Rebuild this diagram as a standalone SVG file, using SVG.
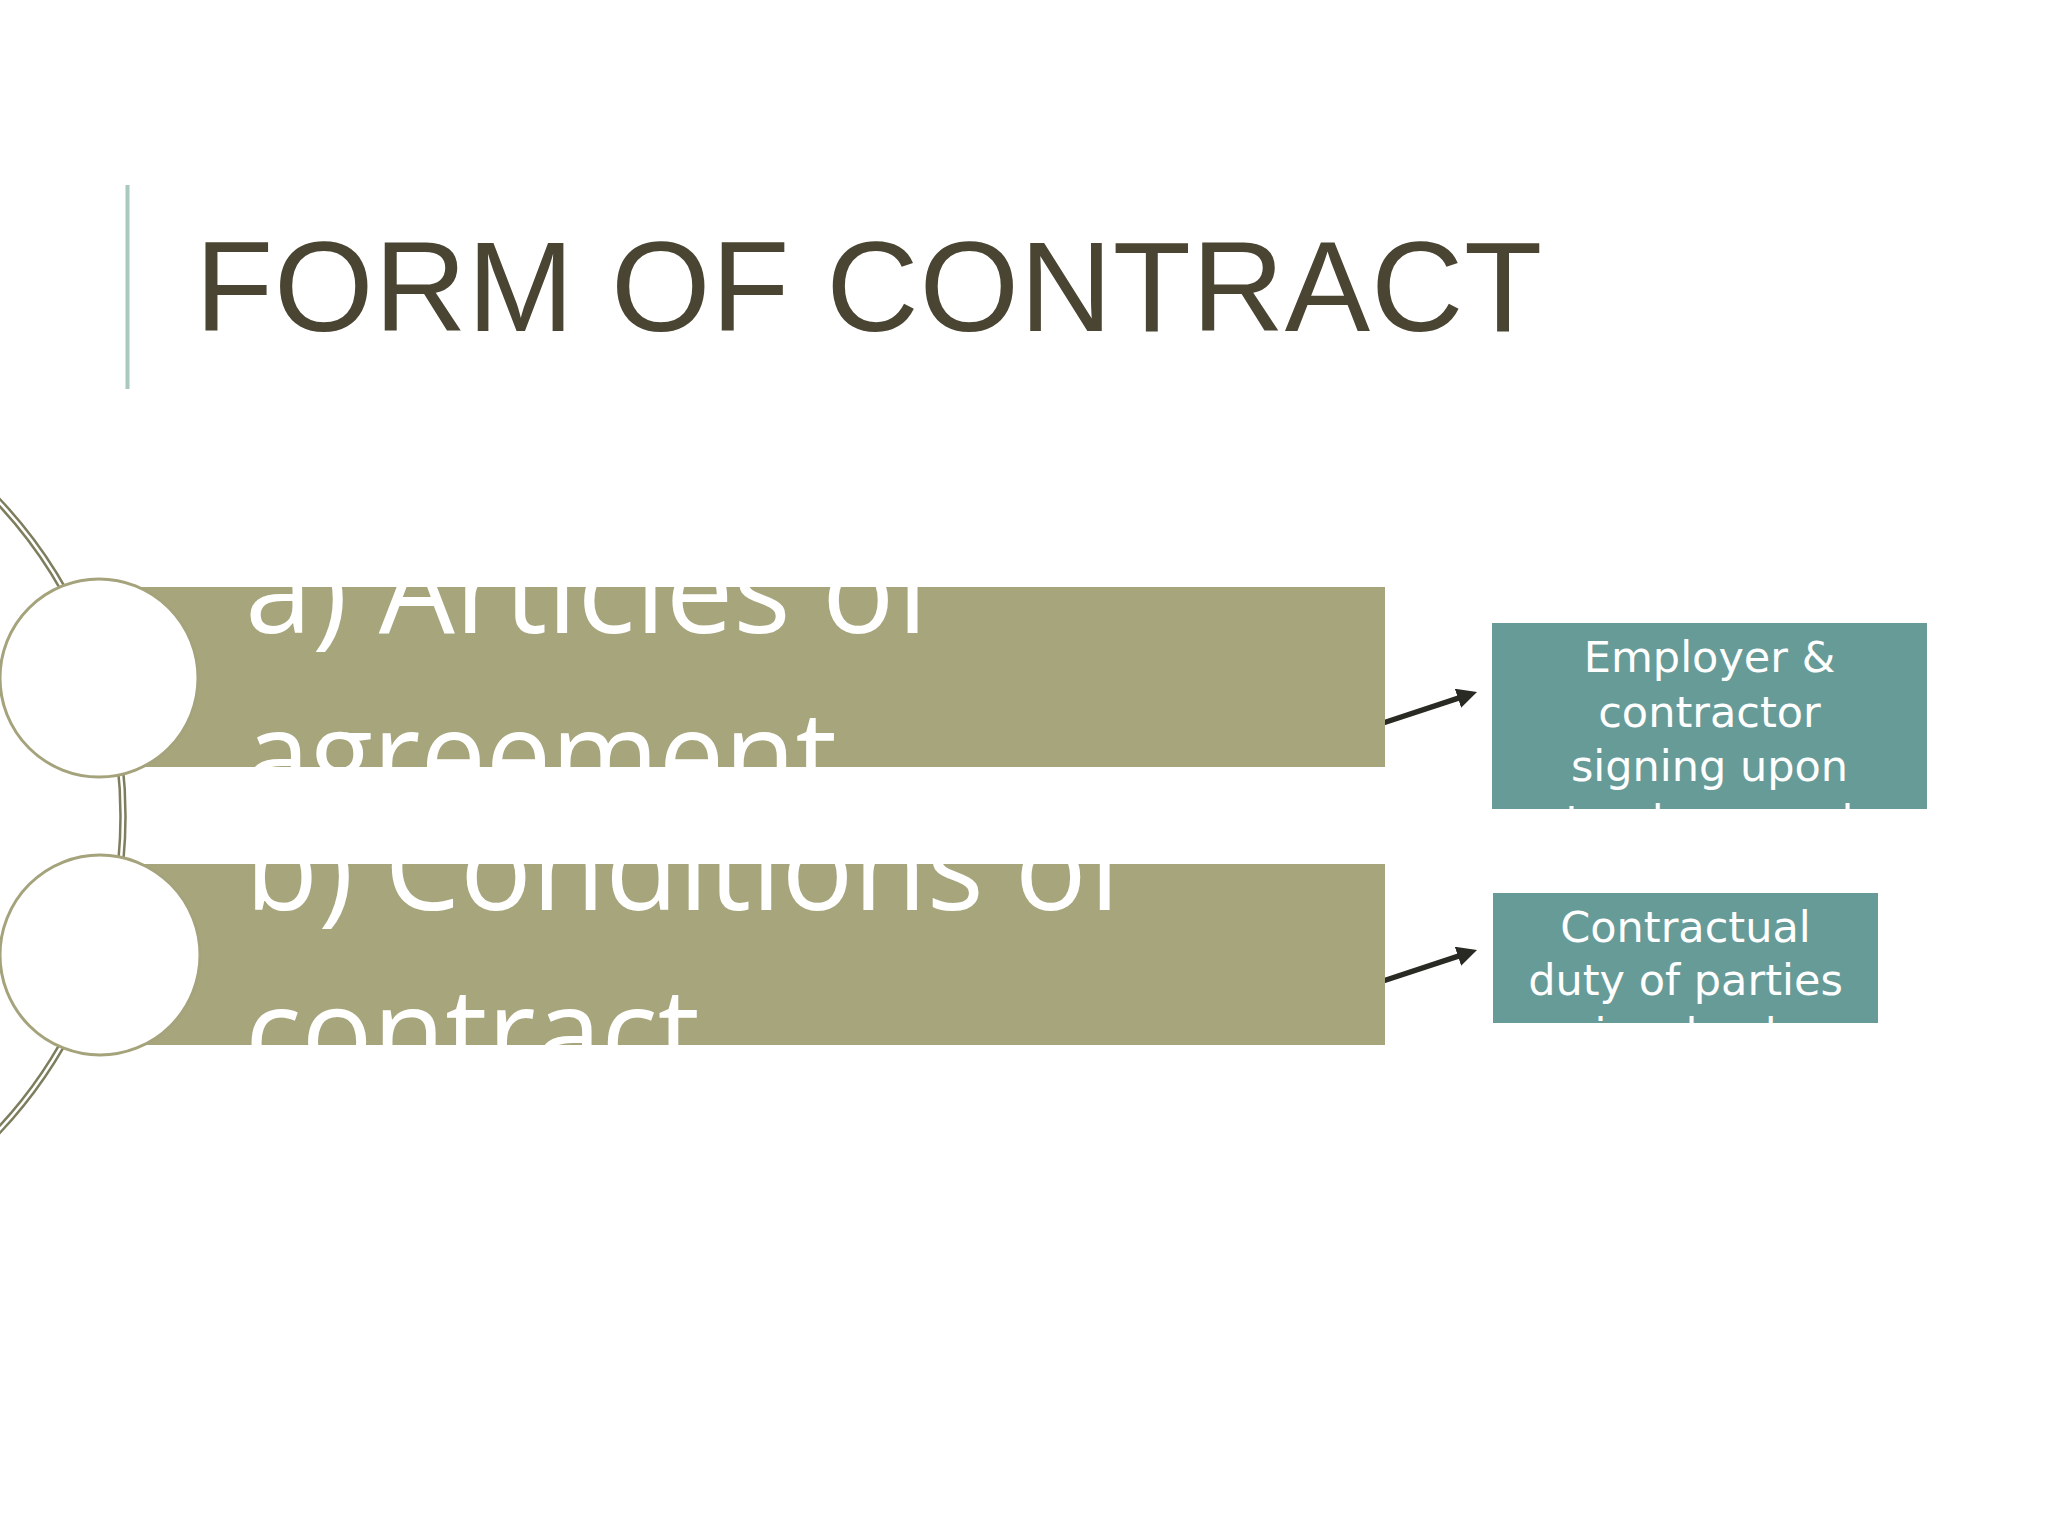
<svg xmlns="http://www.w3.org/2000/svg" width="2048" height="1536" viewBox="0 0 2048 1536">
  <style>
    .title { font-family: "Liberation Sans", Arial, sans-serif; font-size: 128px; fill: #4a4533; letter-spacing: 0.7px; }
    .bar { fill: #a7a57c; }
    .bartext { font-family: "Open Sans", "Noto Sans", sans-serif; font-size: 120px; fill: #ffffff; }
    .ring { fill: #ffffff; stroke: #a5a37b; stroke-width: 3; }
    .box { fill: #679b98; }
    .boxtext { font-family: "DejaVu Sans", sans-serif; font-size: 43px; fill: #ffffff; text-anchor: middle; }
    .arrow { stroke: #2a2a24; stroke-width: 5.5; fill: none; }
  </style>
  <defs>
    <marker id="head" viewBox="0 0 20 20" markerWidth="20" markerHeight="20" refX="2" refY="10" orient="auto" markerUnits="userSpaceOnUse">
      <polygon points="0,0 20,10 0,20" fill="#2a2a24"/>
    </marker>
    <clipPath id="clipBar1"><rect x="100" y="587" width="1285" height="180"/></clipPath>
    <clipPath id="clipBar2"><rect x="100" y="864" width="1285" height="181"/></clipPath>
    <clipPath id="clipBox1"><rect x="1492" y="623" width="435" height="186"/></clipPath>
    <clipPath id="clipBox2"><rect x="1493" y="893" width="385" height="130"/></clipPath>
  </defs>

  <rect x="0" y="0" width="2048" height="1536" fill="#ffffff"/>

  <g id="title">
    <line x1="127.5" y1="185" x2="127.5" y2="389" stroke="#a9c8c0" stroke-width="4"/>
    <text class="title" x="195" y="330.5">FORM OF CONTRACT</text>
  </g>

  <g id="connectors">
    <g id="spine">
      <circle cx="-337" cy="816" r="460" fill="none" stroke="#7e7d5d" stroke-width="7.5"/>
      <circle cx="-337" cy="816" r="460" fill="none" stroke="#ffffff" stroke-width="2.5"/>
    </g>
    <path class="arrow" d="M1383,723 L1459.9,697.6" marker-end="url(#head)"/>
    <path class="arrow" d="M1383,981 L1459.9,955.6" marker-end="url(#head)"/>
  </g>

  <g id="node-articles">
    <rect class="bar" x="100" y="587" width="1285" height="180"/>
    <g clip-path="url(#clipBar1)">
      <text class="bartext" x="245" y="633" textLength="690" lengthAdjust="spacingAndGlyphs">a) Articles of</text>
      <text class="bartext" x="245" y="798" textLength="592" lengthAdjust="spacingAndGlyphs">agreement</text>
    </g>
    <circle class="ring" cx="99" cy="678" r="99"/>
  </g>

  <g id="node-conditions">
    <rect class="bar" x="100" y="864" width="1285" height="181"/>
    <g clip-path="url(#clipBar2)">
      <text class="bartext" x="245" y="910" textLength="882" lengthAdjust="spacingAndGlyphs">b) Conditions of</text>
      <text class="bartext" x="245" y="1075" textLength="455" lengthAdjust="spacingAndGlyphs">contract</text>
    </g>
    <circle class="ring" cx="100" cy="955" r="100"/>
  </g>

  <g id="node-employer">
    <rect class="box" x="1492" y="623" width="435" height="186"/>
    <g clip-path="url(#clipBox1)">
      <text class="boxtext" x="1709.5" y="672">Employer &amp;</text>
      <text class="boxtext" x="1709.5" y="727">contractor</text>
      <text class="boxtext" x="1709.5" y="781">signing upon</text>
      <text class="boxtext" x="1709.5" y="836">tender award</text>
    </g>
  </g>

  <g id="node-duty">
    <rect class="box" x="1493" y="893" width="385" height="130"/>
    <g clip-path="url(#clipBox2)">
      <text class="boxtext" x="1685.5" y="942">Contractual</text>
      <text class="boxtext" x="1685.5" y="995">duty of parties</text>
      <text class="boxtext" x="1685.5" y="1049">involved</text>
    </g>
  </g>
</svg>
